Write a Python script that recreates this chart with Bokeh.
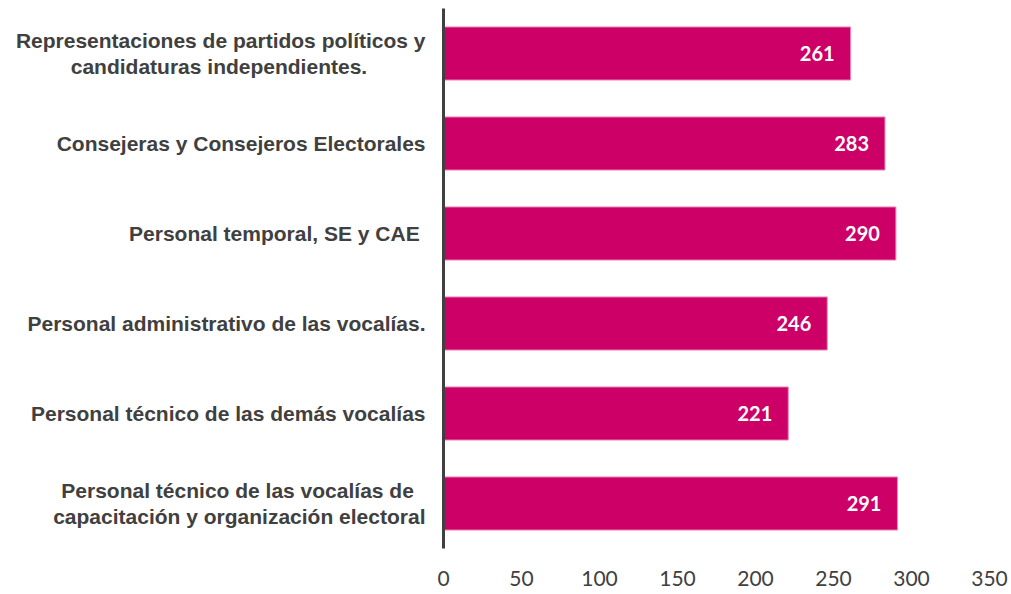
from bokeh.plotting import figure
from bokeh.models import ColumnDataSource, FixedTicker, FactorRange, Range1d
from bokeh.core.properties import value
from bokeh.embed import file_html
from bokeh.resources import INLINE

categories = [
    "Representaciones de partidos políticos y\ncandidaturas independientes.",
    "Consejeras y Consejeros Electorales",
    "Personal temporal, SE y CAE ",
    "Personal administrativo de las vocalías.",
    "Personal técnico de las demás vocalías",
    "Personal técnico de las vocalías de \ncapacitación y organización electoral",
]
values = [261, 283, 290, 246, 221, 291]
x_ticks = [0, 50, 100, 150, 200, 250, 300, 350]

# display: centre the lines of the two-line labels (pad shorter line)
NB = "\u00a0"
display = {
    categories[0]: "Representaciones de partidos políticos y\ncandidaturas independientes." + NB * 10,
    categories[5]: "Personal técnico de las vocalías de" + NB * 2 + "\ncapacitación y organización electoral",
}
cats_shown = [display.get(c, c) for c in categories]

src = ColumnDataSource(dict(cat=cats_shown, val=values, lab=[str(v) for v in values]))

p = figure(width=1011, height=594, output_backend="svg", toolbar_location=None,
           y_range=FactorRange(factors=list(reversed(cats_shown))),
           x_range=Range1d(0, 350),
           min_border_left=443, min_border_right=22, min_border_top=8, min_border_bottom=46)
p.outline_line_color = None
p.grid.visible = False
p.background_fill_color = "white"
p.border_fill_color = "white"

p.hbar(y="cat", right="val", left=0, height=0.59, source=src,
       fill_color="#CC0066", line_color="#EE88BB", line_width=1)
p.text(x="val", y="cat", text="lab", source=src, x_offset=-16,
       text_align="right", text_baseline="middle", text_color="white",
       text_font=value("Lato"), text_font_style="bold", text_font_size="20px")

xa = p.xaxis[0]
xa.ticker = FixedTicker(ticks=x_ticks)
xa.axis_line_color = None
xa.major_tick_line_color = None
xa.minor_tick_line_color = None
xa.major_tick_out = 0
xa.major_label_standoff = 22
xa.major_label_text_font = "Lato"
xa.major_label_text_font_size = "21px"
xa.major_label_text_color = "#404040"

ya = p.yaxis[0]
ya.axis_line_color = "#404040"
ya.axis_line_width = 3
ya.major_tick_line_color = None
ya.minor_tick_line_color = None
ya.major_tick_out = 0
ya.major_label_standoff = 18
ya.major_label_text_font = "Liberation Sans"
ya.major_label_text_font_style = "bold"
ya.major_label_text_font_size = "21px"
ya.major_label_text_color = "#404040"
ya.major_label_text_line_height = 1.1

open("out.html", "w").write(file_html(p, INLINE))
